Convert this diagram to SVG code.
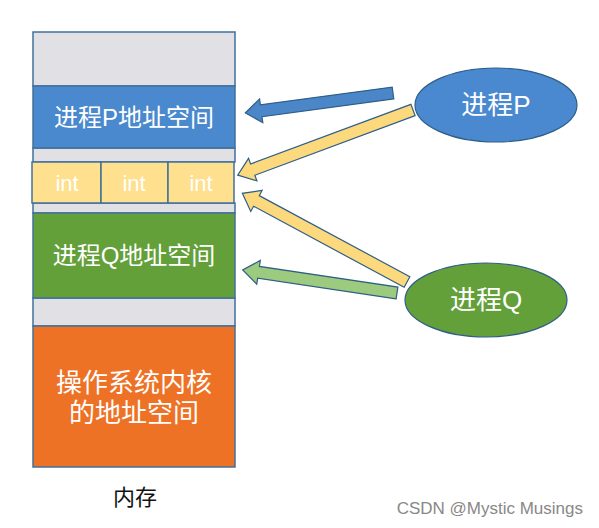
<svg xmlns="http://www.w3.org/2000/svg" width="599" height="528" viewBox="0 0 599 528">
<style>
.seg{stroke:#41719c;stroke-width:1.5}
.lbl{font-family:"Liberation Sans","Noto Sans CJK SC",sans-serif;fill:#fff;text-anchor:middle;dominant-baseline:central}
.arr{stroke:#2f5f86;stroke-width:1.2}
</style>
<rect width="599" height="528" fill="#fff"/>
<g id="memory">
<rect class="seg" x="33" y="32" width="202" height="54" fill="#e1e0e4"/>
<rect class="seg" x="33" y="148" width="202" height="14" fill="#e1e0e4"/>
<rect class="seg" x="33" y="203" width="202" height="10" fill="#e1e0e4"/>
<rect class="seg" x="33" y="298" width="202" height="28" fill="#e1e0e4"/>
</g>
<g id="p-space">
<rect class="seg" x="33" y="86" width="202" height="62" fill="#4a89cd"/>
<text class="lbl" x="134" y="117" font-size="24">进程P地址空间</text>
</g>
<g id="int-row">
<rect class="seg" x="32" y="162" width="69" height="41" fill="#fee08f"/>
<rect class="seg" x="101" y="162" width="67" height="41" fill="#fee08f"/>
<rect class="seg" x="168" y="162" width="66" height="41" fill="#fee08f"/>
<text class="lbl" x="67" y="183" font-size="22">int</text>
<text class="lbl" x="134" y="183" font-size="22">int</text>
<text class="lbl" x="201" y="183" font-size="22">int</text>
</g>
<g id="q-space">
<rect class="seg" x="33" y="213" width="202" height="85" fill="#63a03a"/>
<text class="lbl" x="134" y="255" font-size="24">进程Q地址空间</text>
</g>
<g id="kernel">
<rect class="seg" x="33" y="326" width="202" height="141" fill="#ed7226"/>
<text class="lbl" x="134" y="383" font-size="26">操作系统内核</text>
<text class="lbl" x="134" y="413" font-size="26">的地址空间</text>
</g>
<g id="mem-label">
<text x="135" y="497" font-size="22" font-family="Liberation Sans,Noto Sans CJK SC,sans-serif" text-anchor="middle" dominant-baseline="central" fill="#111">内存</text>
</g>
<g id="connectors">
<polygon class="arr" fill="#4a86c8" transform="translate(393,93) rotate(172.3)" points="0,-6 133,-6 133,-12 149,0 133,12 133,6 0,6"/>
<polygon class="arr" fill="#fdd97e" transform="translate(413,110) rotate(159.6)" points="0,-6 171,-6 171,-12 187,0 171,12 171,6 0,6"/>
<polygon class="arr" fill="#fdd97e" transform="translate(407,282) rotate(208.3)" points="0,-6 171,-6 171,-12 187,0 171,12 171,6 0,6"/>
<polygon class="arr" fill="#9cca7e" transform="translate(397,293) rotate(188.5)" points="0,-6 140,-6 140,-12 156,0 140,12 140,6 0,6"/>
</g>
<g id="proc-p">
<ellipse cx="496" cy="105" rx="81" ry="37" fill="#4a89d0" stroke="#2f5f86" stroke-width="1.2"/>
<text class="lbl" x="496" y="105" font-size="26">进程P</text>
</g>
<g id="proc-q">
<ellipse cx="486" cy="300" rx="81" ry="37" fill="#64a03a" stroke="#2f5f86" stroke-width="1.2"/>
<text class="lbl" x="486" y="300" font-size="26">进程Q</text>
</g>
<text x="583" y="508" font-size="17" font-family="Liberation Sans,sans-serif" text-anchor="end" dominant-baseline="central" fill="#888">CSDN @Mystic Musings</text>
</svg>
